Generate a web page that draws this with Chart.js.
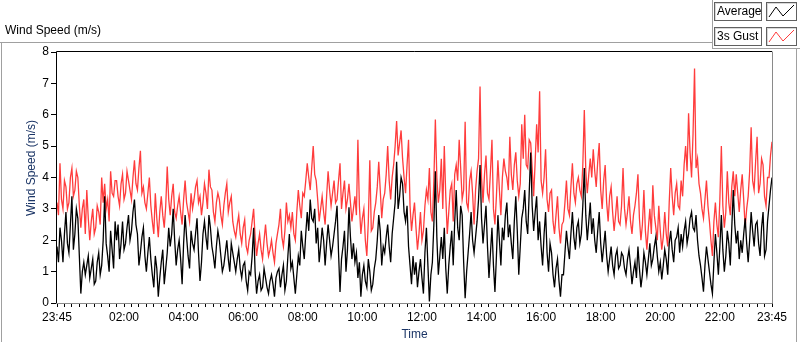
<!DOCTYPE html>
<html>
<head>
<meta charset="utf-8">
<script src="https://cdn.jsdelivr.net/npm/chart.js@4.4.1/dist/chart.umd.min.js"></script>
<style>
  body { margin: 0; background: #fff; }
  #wrap { position: relative; width: 800px; height: 342px; overflow: hidden;
          font-family: "Liberation Sans", Arial, sans-serif; font-size: 12px; color: #000; }
  #wrap canvas { position: absolute; left: 0; top: 0; }
  .line { position: absolute; background: #a0a0a0; }
  .title { position: absolute; left: 5px; top: 23px; white-space: nowrap; }
  .ytitle { position: absolute; left: 31px; top: 168px; white-space: nowrap; color: #1b3566;
            transform: translate(-50%, -50%) rotate(-90deg); }
  .lbl { position: absolute; left: 714px; width: 48px; height: 19px; line-height: 17px;
         border: 1px solid #606060; box-shadow: inset 1px 1px 0 #d8d8d8; padding-left: 2px;
         box-sizing: border-box; }
  .ico { position: absolute; left: 766px; width: 31px; height: 19px; box-sizing: border-box;
         border: 1px solid #606060; box-shadow: inset 1px 1px 0 #d8d8d8; }
</style>
</head>
<body>
<div id="wrap">
  <canvas id="windChart" width="800" height="342"></canvas>
  <div class="line" style="left:0;top:42px;width:712px;height:1px"></div>
  <div class="line" style="left:1px;top:42px;width:1px;height:300px"></div>
  <div class="line" style="left:712px;top:0;width:1px;height:49px"></div>
  <div class="line" style="left:712px;top:48px;width:88px;height:1px"></div>
  <div class="line" style="left:796px;top:48px;width:1px;height:294px"></div>
  <div class="title">Wind Speed (m/s)</div>
  <div class="ytitle">Wind Speed (m/s)</div>
  <div class="lbl" style="top:2px">Average</div>
  <div class="ico" style="top:2px"><svg width="29" height="17"><polyline points="2,14 9,4 16,13 27,2" fill="none" stroke="#000" stroke-width="1"/></svg></div>
  <div class="lbl" style="top:27px">3s Gust</div>
  <div class="ico" style="top:27px"><svg width="29" height="17"><polyline points="2,14 9,4 16,13 27,2" fill="none" stroke="#ff3c3c" stroke-width="1"/></svg></div>
</div>
<script>
// one sample every 3 minutes, starting at 23:45 (20 samples per row = 1 hour)
const SAMPLE_STEP = 3;
const START_MIN = 23 * 60 + 45;

const avgSpeed = [
  1.8, 1.3, 2.4, 2.0, 1.3, 2.2, 2.9, 1.9, 1.6, 2.5, 3.4, 1.7, 2.2, 3.0, 2.7, 1.5, 0.3, 1.0, 1.3, 0.9,
  1.2, 1.5, 0.8, 1.1, 1.4, 0.6, 0.7, 1.3, 1.6, 0.9, 1.2, 2.0, 3.4, 1.9, 1.5, 1.0, 2.3, 1.7, 1.1, 2.6,
  2.0, 2.5, 1.4, 1.9, 2.6, 1.7, 1.9, 2.4, 2.8, 2.0, 2.3, 2.9, 3.3, 2.5, 2.2, 1.2, 1.6, 2.1, 2.4, 1.5,
  1.0, 1.6, 2.1, 1.4, 0.9, 0.5, 1.5, 1.1, 0.2, 0.8, 1.3, 1.7, 0.6, 1.1, 1.6, 2.4, 1.8, 2.2, 3.0, 2.0,
  1.2, 1.7, 2.0, 1.4, 0.6, 1.9, 2.8, 2.1, 1.5, 1.1, 2.3, 1.9, 1.7, 2.2, 2.7, 1.6, 0.7, 1.3, 2.2, 2.6,
  2.1, 1.7, 2.8, 2.4, 1.8, 1.5, 1.1, 1.8, 2.3, 2.0, 1.5, 1.0, 1.2, 1.6, 2.0, 1.4, 1.0, 1.9, 1.6, 1.3,
  1.0, 1.4, 1.7, 1.1, 0.8, 1.2, 1.3, 0.7, 0.4, 1.0, 0.9, 1.5, 2.4, 1.0, 0.3, 0.7, 0.9, 0.4, 0.5, 1.1,
  0.8, 0.5, 0.3, 0.7, 0.9, 0.6, 0.2, 0.8, 1.0, 1.1, 0.5, 0.9, 1.2, 0.4, 0.7, 1.5, 2.2, 1.1, 1.3, 0.8,
  0.3, 0.9, 1.5, 1.2, 2.3, 1.8, 1.4, 2.2, 2.9, 2.3, 3.3, 2.7, 2.6, 3.0, 1.9, 2.4, 1.3, 1.8, 2.4, 2.0,
  1.2, 1.9, 2.5, 2.0, 1.5, 1.8, 2.2, 2.6, 3.1, 1.6, 0.35, 1.4, 1.8, 2.3, 1.0, 1.7, 3.05, 2.1, 1.4, 1.9,
  1.3, 1.6, 0.8, 1.3, 0.2, 0.9, 1.2, 0.7, 0.5, 1.4, 1.0, 0.4, 0.6, 1.1, 1.4, 2.0, 2.8, 2.3, 1.2, 1.8,
  1.6, 2.1, 2.5, 1.8, 1.3, 2.2, 2.7, 3.2, 4.5, 3.0, 3.4, 4.0, 3.8, 2.9, 2.6, 3.1, 1.8, 1.2, 0.6, 1.5,
  0.9, 1.3, 0.5, 1.0, 1.4, 0.8, 0.3, 1.6, 2.4, 1.2, 0.05, 0.9, 1.3, 2.5, 4.2, 2.1, 0.9, 1.5, 2.1, 1.4,
  2.4, 1.1, 0.3, 1.2, 1.8, 2.3, 1.2, 2.6, 3.6, 2.4, 2.0, 3.1, 2.8, 1.3, 0.15, 1.0, 1.6, 2.2, 2.9, 2.0,
  1.6, 2.1, 2.6, 3.3, 4.4, 2.7, 1.9, 2.5, 3.1, 1.8, 0.8, 1.6, 2.4, 1.2, 0.35, 1.5, 2.8, 2.0, 1.2, 2.4,
  2.0, 2.8, 3.2, 2.1, 2.5, 1.9, 1.4, 2.6, 3.4, 2.3, 0.9, 1.8, 2.7, 3.0, 3.6, 2.6, 2.2, 3.5, 4.8, 3.1,
  2.3, 2.9, 3.4, 2.0, 2.6, 1.8, 1.2, 2.2, 2.9, 1.6, 1.0, 1.9, 1.6, 0.9, 0.5, 1.1, 1.4, 0.7, 0.2, 0.9,
  0.9, 1.6, 2.3, 1.8, 1.4, 2.2, 2.9, 2.1, 1.7, 2.4, 2.6, 1.9, 2.2, 3.1, 4.3, 2.8, 2.0, 2.6, 3.2, 2.2,
  2.7, 2.0, 1.6, 2.3, 2.9, 1.9, 1.3, 1.8, 2.3, 1.5, 1.0, 1.4, 1.8, 1.2, 0.9, 1.5, 1.7, 1.1, 1.2, 1.6,
  1.5, 1.1, 0.9, 1.4, 1.7, 1.2, 0.6, 1.0, 1.3, 0.8, 1.8, 1.1, 0.5, 0.9, 1.6, 1.3, 0.9, 1.4, 1.9, 1.2,
  1.4, 1.8, 2.1, 1.5, 1.0, 1.3, 0.75, 1.2, 1.7, 1.4, 0.9, 1.9, 2.3, 1.7, 1.3, 2.0, 2.1, 2.4, 1.6, 2.2,
  1.8, 2.3, 2.6, 1.9, 2.2, 2.7, 2.9, 2.4, 2.3, 2.8, 2.0, 1.5, 1.2, 0.8, 0.36, 1.2, 1.8, 1.4, 1.0, 0.6,
  0.3, 1.3, 2.2, 1.6, 0.9, 1.8, 2.8, 1.7, 1.0, 1.5, 2.3, 1.9, 1.2, 2.4, 3.6, 2.5, 1.9, 2.3, 1.4, 2.0,
  1.6, 2.2, 2.7, 1.9, 1.3, 2.0, 2.9, 2.3, 1.8, 2.5, 2.6, 1.9, 1.5, 2.4, 2.9, 1.5, 1.7, 2.6, 3.1, 3.6,
  4.0
];

const gustSpeed = [
  3.2, 2.8, 4.45, 3.3, 3.0, 3.9, 3.7, 3.0, 3.2, 4.0, 4.3, 3.4, 3.6, 4.2, 4.0, 3.1, 2.4, 3.0, 3.3, 2.2,
  3.6, 2.7, 2.0, 2.6, 3.0, 2.2, 2.4, 3.1, 2.9, 2.5, 4.0, 3.2, 3.8, 3.0, 3.3, 2.6, 4.2, 3.5, 3.4, 3.9,
  3.9, 3.4, 3.1, 3.8, 4.1, 3.3, 3.5, 4.2, 3.9, 3.6, 3.3, 4.0, 4.55, 3.8, 3.6, 4.3, 4.85, 3.5, 3.7, 3.2,
  3.0, 3.5, 4.0, 3.1, 2.6, 2.2, 3.5, 2.7, 2.1, 2.9, 3.4, 2.8, 2.4, 3.1, 4.35, 3.3, 2.8, 3.4, 3.8, 2.9,
  2.7, 3.1, 3.4, 2.9, 2.5, 3.3, 3.9, 3.2, 2.9, 2.6, 3.5, 3.0, 3.3, 3.7, 3.9, 3.2, 3.4, 2.8, 3.2, 3.8,
  3.5, 3.0, 4.25, 3.7, 3.6, 2.9, 2.6, 3.2, 3.5, 3.3, 2.8, 2.5, 3.1, 3.5, 3.8, 2.9, 3.2, 3.4, 2.6, 2.3,
  2.1, 2.5, 2.8, 2.2, 1.9, 2.4, 2.65, 1.8, 1.6, 2.0, 2.2, 2.6, 3.0, 2.1, 1.5, 1.9, 2.2, 1.7, 1.4, 2.0,
  2.5, 1.9, 1.5, 1.7, 2.0, 1.6, 1.3, 1.9, 2.2, 2.5, 3.0, 2.1, 1.8, 2.3, 3.2, 2.6, 2.8, 2.4, 2.9, 2.2,
  2.0, 2.9, 3.6, 3.1, 2.7, 3.5, 3.4, 3.9, 4.45, 4.0, 3.6, 4.3, 5.0, 4.1, 3.9, 3.3, 2.6, 3.0, 3.4, 2.9,
  2.5, 3.4, 4.2, 3.6, 3.1, 3.5, 3.9, 3.2, 3.3, 3.9, 4.45, 3.0, 3.5, 3.9, 3.0, 3.3, 3.8, 3.2, 2.6, 3.0,
  3.4, 2.8, 5.2, 3.1, 2.2, 2.7, 3.0, 2.0, 1.5, 2.6, 4.55, 2.3, 2.4, 2.9, 3.2, 3.7, 4.5, 3.6, 2.7, 3.3,
  3.5, 4.1, 5.0, 3.9, 3.3, 4.0, 4.4, 5.0, 5.8, 4.7, 5.1, 5.5, 4.6, 4.0, 3.5, 4.4, 5.2, 3.1, 2.3, 2.8,
  3.2, 2.4, 1.7, 2.2, 2.9, 2.0, 2.3, 3.1, 3.6, 3.3, 4.3, 2.9, 2.6, 3.9, 5.85, 4.0, 3.2, 3.6, 4.6, 3.0,
  5.0, 3.4, 2.2, 2.9, 3.6, 3.8, 2.6, 4.1, 4.4, 3.9, 5.2, 4.3, 3.3, 3.6, 5.78, 3.2, 3.0, 3.9, 4.2, 3.5,
  2.5, 3.6, 4.2, 4.6, 6.9, 4.0, 3.2, 4.1, 4.7, 3.5, 3.3, 4.2, 5.2, 3.0, 2.5, 3.4, 4.55, 3.6, 2.8, 4.0,
  4.6, 4.2, 4.0, 3.6, 5.3, 4.1, 3.6, 4.4, 4.8, 3.9, 3.4, 3.8, 5.7, 4.6, 6.0, 4.4, 4.3, 5.2, 5.1, 4.3,
  3.4, 4.5, 5.7, 4.8, 6.75, 3.9, 3.5, 4.0, 4.9, 3.3, 2.9, 3.5, 3.6, 2.6, 2.2, 2.8, 3.4, 2.4, 1.9, 2.5,
  2.6, 3.2, 3.9, 3.0, 2.8, 3.7, 4.45, 3.5, 3.2, 3.8, 4.0, 3.6, 3.4, 4.4, 6.15, 4.2, 3.5, 4.1, 4.6, 4.0,
  4.9, 4.2, 3.7, 4.5, 5.1, 3.6, 3.0, 3.9, 4.4, 3.2, 2.6, 3.4, 3.7, 2.9, 2.3, 2.8, 3.4, 2.6, 2.5, 3.1,
  4.3, 3.0, 2.5, 2.9, 3.4, 2.6, 2.2, 2.8, 3.1, 3.5, 4.1, 2.7, 2.0, 2.5, 3.6, 2.3, 1.7, 2.4, 3.0, 2.2,
  3.75, 2.8, 2.4, 2.0, 3.1, 2.3, 1.7, 2.1, 2.9, 2.2, 1.8, 3.2, 4.3, 3.4, 2.8, 3.5, 3.8, 3.1, 3.0, 3.9,
  3.4, 4.4, 5.0, 4.2, 6.05, 4.8, 4.0, 5.4, 7.47, 4.3, 4.6, 3.8, 3.5, 3.0, 2.7, 3.3, 3.9, 3.1, 2.6, 2.0,
  1.5, 2.6, 3.2, 2.5, 2.1, 3.3, 5.0, 3.1, 2.4, 2.9, 4.2, 3.2, 2.8, 3.7, 4.2, 3.4, 4.1, 3.5, 2.9, 3.6,
  4.1, 3.3, 2.4, 3.0, 3.4, 4.2, 5.6, 3.9, 3.6, 4.5, 5.3, 3.5, 3.8, 4.6, 4.4, 3.4, 3.1, 4.0, 4.0, 4.7,
  5.14
];

// minutes after 23:45 that carry a label
const labelledTicks = [0, 135, 255, 375, 495, 615, 735, 855, 975, 1095, 1215, 1335, 1440];
const yTicks = [0, 1, 2, 3, 4, 5, 6, 7, 8];

function toPoints(values) {
  return values.map((v, i) => ({ x: i * SAMPLE_STEP, y: v }));
}

function timeLabel(m) {
  const t = (START_MIN + m) % 1440;
  const h = Math.floor(t / 60), mm = t % 60;
  return String(h).padStart(2, "0") + ":" + String(mm).padStart(2, "0");
}

// frame of the plot area: dark top/left, grey right/bottom
const plotFrame = {
  id: "plotFrame",
  afterDraw(chart) {
    const { ctx, chartArea: a } = chart;
    ctx.save();
    ctx.lineWidth = 1;
    ctx.strokeStyle = "#000";
    ctx.beginPath();
    ctx.moveTo(Math.round(a.left) - 0.5, Math.round(a.bottom));
    ctx.lineTo(Math.round(a.left) - 0.5, Math.round(a.top) - 0.5);
    ctx.lineTo(Math.round(a.right), Math.round(a.top) - 0.5);
    ctx.stroke();
    ctx.strokeStyle = "#8a8a8a";
    ctx.beginPath();
    ctx.moveTo(Math.round(a.right) + 0.5, Math.round(a.top) - 0.5);
    ctx.lineTo(Math.round(a.right) + 0.5, Math.round(a.bottom) + 0.5);
    ctx.lineTo(Math.round(a.left) - 1, Math.round(a.bottom) + 0.5);
    ctx.stroke();
    ctx.restore();
  }
};

const ctx = document.getElementById("windChart").getContext("2d");
new Chart(ctx, {
  type: "line",
  data: {
    datasets: [
      {
        label: "Average",
        data: toPoints(avgSpeed),
        borderColor: "#000",
        borderWidth: 1.3,
        pointRadius: 0,
        tension: 0,
        fill: false
      },
      {
        label: "3s Gust",
        data: toPoints(gustSpeed),
        borderColor: "#ff3c3c",
        borderWidth: 1.3,
        pointRadius: 0,
        tension: 0,
        fill: false
      }
    ]
  },
  options: {
    responsive: false,
    animation: false,
    devicePixelRatio: 1,
    layout: { padding: { top: 52, right: 28, left: 0, bottom: 0 } },
    plugins: {
      legend: { display: false },
      tooltip: { enabled: false }
    },
    scales: {
      x: {
        type: "linear",
        min: 0,
        max: 1440,
        afterFit(scale) { scale.height = 39; },
        afterBuildTicks(scale) {
          const t = [];
          for (let m = 0; m <= 1440; m += 15) t.push({ value: m });
          scale.ticks = t;
        },
        border: { display: false },
        grid: { drawOnChartArea: false, drawTicks: true, tickLength: 4, color: "#000" },
        ticks: {
          autoSkip: false,
          maxRotation: 0,
          padding: 3,
          color: "#000",
          font: { family: "Liberation Sans", size: 12 },
          callback: (v) => labelledTicks.includes(v) ? timeLabel(v) : ""
        },
        title: {
          display: true,
          text: "Time",
          color: "#1b3566",
          padding: { top: 0, bottom: 0 },
          font: { family: "Liberation Sans", size: 12 }
        }
      },
      y: {
        min: 0,
        max: 8,
        afterFit(scale) { scale.width = 57; },
        afterBuildTicks(scale) { scale.ticks = yTicks.map(v => ({ value: v })); },
        border: { display: false },
        grid: { drawOnChartArea: false, drawTicks: true, tickLength: 6, color: "#000" },
        ticks: {
          padding: 2,
          color: "#000",
          font: { family: "Liberation Sans", size: 12 }
        }
      }
    }
  },
  plugins: [plotFrame]
});
</script>
</body>
</html>
